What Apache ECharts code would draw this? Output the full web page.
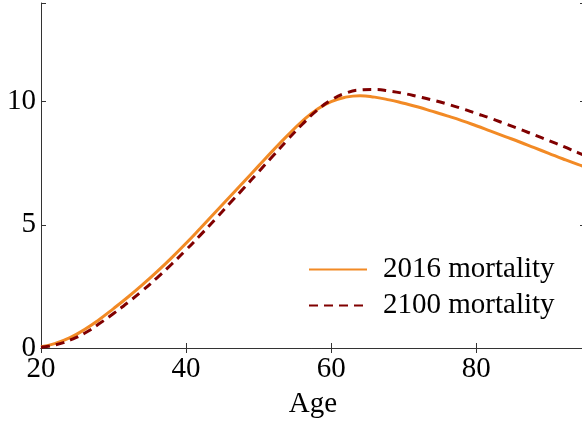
<!DOCTYPE html>
<html>
<head>
<meta charset="utf-8">
<script src="https://cdn.jsdelivr.net/npm/echarts@6/dist/echarts.min.js"></script>
<style>html,body{margin:0;padding:0;background:#fff;}#c{width:582px;height:423px;}</style>
</head>
<body>
<div id="c"></div>
<script>
const ages = [20,22,24,26,28,30,32,34,36,38,40,42,44,46,48,50,52,54,56,58,60,62,64,66,68,70,72,74,76,78,80,82,84,86,88,90,92,94,95];
const mort2016 = [0.05,0.19,0.42,0.75,1.15,1.6,2.07,2.57,3.1,3.66,4.25,4.87,5.5,6.13,6.76,7.39,8.02,8.63,9.2,9.67,10.0,10.18,10.24,10.18,10.07,9.93,9.78,9.6,9.42,9.23,9.02,8.8,8.58,8.36,8.13,7.9,7.67,7.45,7.35];
const mort2100 = [0.03,0.13,0.32,0.6,0.98,1.4,1.85,2.33,2.85,3.4,3.98,4.59,5.22,5.86,6.5,7.15,7.8,8.45,9.07,9.63,10.06,10.34,10.47,10.49,10.43,10.33,10.2,10.06,9.9,9.72,9.52,9.32,9.1,8.88,8.65,8.42,8.18,7.93,7.81];
const seriesNames = ['2016 mortality','2100 mortality'];
const xTicks = [20,40,60,80];
const yTicks = [0,5,10];

const FONT = 'Liberation Serif';
const axisCol = '#333';
const chart = echarts.init(document.getElementById('c'), null, {renderer:'canvas'});
const pairs = a => ages.map((x,i)=>[x,a[i]]);
chart.setOption({
  animation:false,
  backgroundColor:'#fff',
  textStyle:{fontFamily:FONT},
  grid:{left:41,width:544,top:3,height:345,containLabel:false,outerBoundsMode:'none'},
  xAxis:[{
    type:'value',min:20,max:95,interval:20,
    name:'Age',nameLocation:'middle',nameGap:42,
    nameTextStyle:{fontFamily:FONT,fontSize:29,color:'#000'},
    axisLine:{show:true,lineStyle:{color:axisCol,width:1}},
    axisTick:{show:true,inside:true,length:5,lineStyle:{color:axisCol}},
    axisLabel:{fontFamily:FONT,fontSize:29,color:'#000',margin:7,
      formatter:v=>xTicks.includes(v)?String(v):''},
    splitLine:{show:false}
  },{
    type:'value',position:'top',min:20,max:95,interval:20,
    axisLine:{show:true,lineStyle:{color:axisCol,width:1}},
    axisTick:{show:true,inside:true,length:5,lineStyle:{color:axisCol}},
    axisLabel:{show:false},splitLine:{show:false}
  }],
  yAxis:[{
    type:'value',min:0,max:14,interval:5,
    axisLine:{show:true,lineStyle:{color:axisCol,width:1}},
    axisTick:{show:true,inside:true,length:5,lineStyle:{color:axisCol}},
    axisLabel:{fontFamily:FONT,fontSize:29,color:'#000',margin:5,
      formatter:v=>yTicks.includes(v)?String(v):''},
    splitLine:{show:false}
  },{
    type:'value',position:'right',min:0,max:14,interval:5,
    axisLine:{show:true,lineStyle:{color:axisCol,width:1}},
    axisTick:{show:true,inside:true,length:5,lineStyle:{color:axisCol}},
    axisLabel:{show:false},splitLine:{show:false}
  }],
  legend:{
    left:303,top:250,orient:'vertical',itemWidth:58,itemHeight:14,itemGap:7,
    itemStyle:{opacity:0},
    textStyle:{fontFamily:FONT,fontSize:29,color:'#000',padding:[0,0,0,11]},
    data:seriesNames
  },
  series:[{
    name:seriesNames[0],type:'line',data:pairs(mort2016),smooth:true,showSymbol:false,symbol:'none',
    lineStyle:{color:'#f28a25',width:3},itemStyle:{color:'#f28a25'},z:2
  },{
    name:seriesNames[1],type:'line',data:pairs(mort2100),smooth:true,showSymbol:false,symbol:'none',
    lineStyle:{color:'#800000',width:3,type:[9,6]},itemStyle:{color:'#800000'},z:3
  }]
});
</script>
</body>
</html>
